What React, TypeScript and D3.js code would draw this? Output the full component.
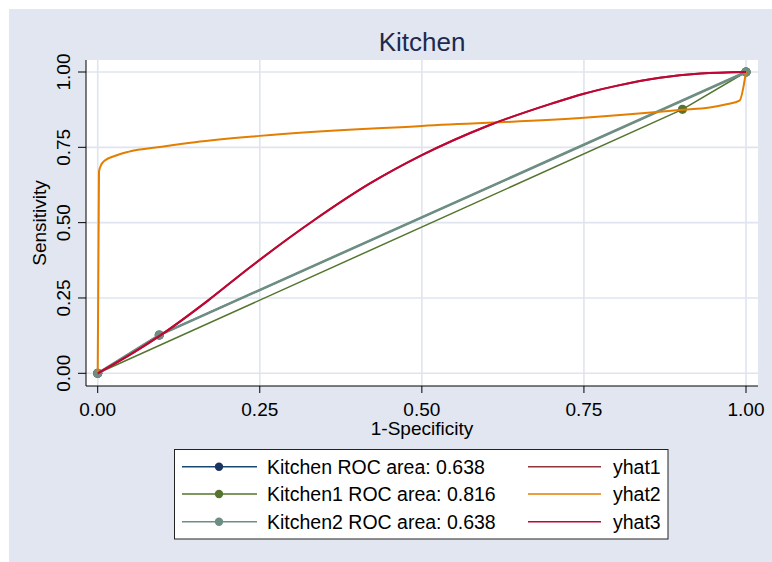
import * as d3 from 'd3';

// ROC points: [1-specificity, sensitivity]
const kitchen: [number, number][] = [[0, 0], [0.095, 0.127], [1, 1]];
const kitchen1: [number, number][] = [[0, 0], [0.902, 0.876], [1, 1]];
const kitchen2: [number, number][] = [[0, 0], [0.095, 0.127], [1, 1]];

const yhat3: [number, number][] = [
  [0, 0], [0.05, 0.062], [0.096, 0.125], [0.171, 0.243], [0.235, 0.352],
  [0.333, 0.507], [0.42, 0.63], [0.5, 0.724], [0.6, 0.82], [0.7, 0.895],
  [0.75, 0.928], [0.8, 0.954], [0.867, 0.981], [0.93, 0.995], [1, 1],
];
const yhat1 = yhat3;
const yhat2: [number, number][] = [
  [0, 0], [0.002, 0.669], [0.005, 0.69], [0.011, 0.706], [0.027, 0.722],
  [0.047, 0.735], [0.099, 0.752], [0.15, 0.767], [0.25, 0.788], [0.5, 0.821],
  [0.75, 0.848], [0.867, 0.868], [0.897, 0.874], [0.944, 0.882], [0.97, 0.893],
  [0.99, 0.905], [1, 1],
];

const ticks = [0, 0.25, 0.5, 0.75, 1];
const rocNames = ['Kitchen ROC area: 0.638', 'Kitchen1 ROC area: 0.816', 'Kitchen2 ROC area: 0.638'];
const fitNames = ['yhat1', 'yhat2', 'yhat3'];

const COLORS = {
  navy: '#1a476f',
  green: '#55752f',
  teal: '#6e8e84',
  maroon: '#90353b',
  orange: '#e37e00',
  cranberry: '#c10534',
};
const BG = '#e1e6f0';
const GRID = '#dfe4ee';
const FONT = 'Arial, "Liberation Sans", sans-serif';

const PLOT = { left: 86, right: 758, top: 60, bottom: 386 };

export default function App() {
  const x = d3.scaleLinear().domain([0, 1]).range([97.7, 746]);
  const y = d3.scaleLinear().domain([0, 1]).range([373.3, 72]);
  const line = d3.line<[number, number]>().x((d) => x(d[0])).y((d) => y(d[1]));
  const smooth = d3
    .line<[number, number]>()
    .x((d) => x(d[0]))
    .y((d) => y(d[1]))
    .curve(d3.curveMonotoneX);

  const rocSeries = [
    { data: kitchen, color: COLORS.navy, marker: '#1a3560', width: 1.5 },
    { data: kitchen1, color: COLORS.green, marker: COLORS.green, width: 1.5 },
    { data: kitchen2, color: COLORS.teal, marker: COLORS.teal, width: 2.6 },
  ];
  const fitSeries = [
    { data: yhat1, color: COLORS.maroon, width: 2 },
    { data: yhat2, color: COLORS.orange, width: 2 },
    { data: yhat3, color: COLORS.cranberry, width: 2 },
  ];
  const rowY = [466.7, 494, 521.7];

  return (
    <svg width={772} height={562} style={{ position: 'absolute', left: 0, top: 0 }} fontFamily={FONT}>
      <rect x={0} y={0} width={772} height={562} fill="#fff" />
      <rect x={9} y={9} width={763} height={553} fill={BG} />
      <rect x={PLOT.left} y={PLOT.top} width={PLOT.right - PLOT.left} height={PLOT.bottom - PLOT.top} fill="#fff" />

      {/* grid */}
      {ticks.map((t) => (
        <g key={'g' + t}>
          <line x1={PLOT.left} x2={PLOT.right} y1={y(t)} y2={y(t)} stroke={GRID} strokeWidth={1.6} />
          <line x1={x(t)} x2={x(t)} y1={PLOT.top} y2={PLOT.bottom} stroke={GRID} strokeWidth={1.6} />
        </g>
      ))}

      {/* ROC curves */}
      {rocSeries.map((s, i) => (
        <g key={'r' + i}>
          <path d={line(s.data) ?? ''} fill="none" stroke={s.color} strokeWidth={s.width} />
          {s.data.map((d, j) => (
            <circle key={j} cx={x(d[0])} cy={y(d[1])} r={4.6} fill={s.marker} />
          ))}
        </g>
      ))}
      {fitSeries.map((s, i) => (
        <path key={'f' + i} d={smooth(s.data) ?? ''} fill="none" stroke={s.color} strokeWidth={s.width} />
      ))}

      {/* axes */}
      <line x1={PLOT.left} x2={PLOT.left} y1={PLOT.top} y2={PLOT.bottom} stroke="#000" strokeWidth={1} />
      <line x1={PLOT.left} x2={PLOT.right} y1={PLOT.bottom} y2={PLOT.bottom} stroke="#000" strokeWidth={1} />
      {ticks.map((t) => (
        <g key={'t' + t}>
          <line x1={PLOT.left - 8} x2={PLOT.left} y1={y(t)} y2={y(t)} stroke="#000" strokeWidth={1} />
          <text transform={`translate(70,${y(t)}) rotate(-90)`} textAnchor="middle" fontSize={19} fill="#000">
            {t.toFixed(2)}
          </text>
          <line x1={x(t)} x2={x(t)} y1={PLOT.bottom} y2={PLOT.bottom + 7} stroke="#000" strokeWidth={1} />
          <text x={x(t)} y={416} textAnchor="middle" fontSize={19} fill="#000">
            {t.toFixed(2)}
          </text>
        </g>
      ))}
      <text transform={`translate(46,223) rotate(-90)`} textAnchor="middle" fontSize={19} fill="#000">
        Sensitivity
      </text>
      <text x={422} y={435} textAnchor="middle" fontSize={19} fill="#000">
        1-Specificity
      </text>
      <text x={422} y={51} textAnchor="middle" fontSize={26} fill="#1c2a50">
        Kitchen
      </text>

      {/* legend */}
      <rect x={174.5} y={449.5} width={493.5} height={89.5} fill="#fff" stroke="#222" strokeWidth={1} />
      {rocSeries.map((s, i) => (
        <g key={'l' + i}>
          <line x1={182} x2={257} y1={rowY[i]} y2={rowY[i]} stroke={s.color} strokeWidth={1.5} />
          <circle cx={219} cy={rowY[i]} r={4.2} fill={s.marker} />
          <text x={267} y={rowY[i] + 7} fontSize={19.5} fill="#000">{rocNames[i]}</text>
        </g>
      ))}
      {fitSeries.map((s, i) => (
        <g key={'m' + i}>
          <line x1={528} x2={601} y1={rowY[i]} y2={rowY[i]} stroke={s.color} strokeWidth={1.5} />
          <text x={613} y={rowY[i] + 7} fontSize={19.5} fill="#000">{fitNames[i]}</text>
        </g>
      ))}
    </svg>
  );
}
